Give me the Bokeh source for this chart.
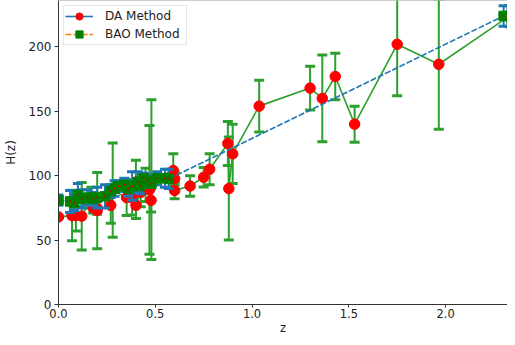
from bokeh.plotting import figure
from bokeh.models import Range1d, FixedTicker, PrintfTickFormatter, Legend, LegendItem, ColumnDataSource, Span
from bokeh.embed import file_html
from bokeh.resources import INLINE

# DA (cosmic chronometer) data
da_z = [0.0, 0.07, 0.09, 0.12, 0.17, 0.179, 0.199, 0.2, 0.27, 0.28, 0.352, 0.3802, 0.4, 0.4004,
        0.4247, 0.4497, 0.47, 0.4783, 0.48, 0.593, 0.6, 0.6, 0.68, 0.75, 0.781, 0.875, 0.88, 0.9,
        1.037, 1.3, 1.363, 1.43, 1.53, 1.75, 1.965, 2.33]
da_H = [68, 69, 69, 68.6, 83, 75, 75, 72.9, 77, 88.8, 83, 83, 95, 77,
        87.1, 92.8, 89, 80.9, 97, 104, 97.7, 88.5, 92, 98.8, 105, 125, 90, 117,
        154, 168, 160, 177, 140, 202, 186.5, 224]
da_err = [0, 19.6, 12, 26.2, 8, 4, 5, 29.6, 14, 36.6, 14, 13.5, 17, 10.2,
          11.2, 12.9, 50, 9, 62, 13, 5, 6.5, 8, 7.5, 12, 17, 40, 23,
          20, 17, 33.6, 18, 14, 40, 50.4, 8]

# BAO data
bao_z = [0.0, 0.06, 0.08, 0.1, 0.12, 0.15, 0.18, 0.2, 0.24, 0.27, 0.29, 0.31, 0.34, 0.36,
         0.38, 0.41, 0.42, 0.44, 0.46, 0.48, 0.51, 0.55, 0.57, 2.30, 2.33, 2.34, 2.36]
bao_H = [81, 80, 79, 85, 82, 83, 82, 83, 84, 88, 90, 92, 93, 90,
         92, 95, 92, 98, 96, 94, 98, 98, 97.5, 224, 224, 222, 226]
bao_err = [4, 8.5, 6, 9, 7, 6, 5, 8, 9, 5, 6, 4, 5, 6,
           11, 8, 6, 4, 5, 3, 5, 7, 7.5, 8, 8, 7, 8]

x_ticks = [0.0, 0.5, 1.0, 1.5, 2.0]
y_ticks = [0, 50, 100, 150, 200]

GREEN = "#2ca02c"
BLUE = "#1f77b4"
ORANGE = "#ff7f0e"

p = figure(width=507, height=337, x_range=Range1d(0, 2.32), y_range=Range1d(0, 236),
           output_backend="svg", toolbar_location=None,
           min_border_left=58, min_border_right=0, min_border_top=0, min_border_bottom=0)
p.background_fill_color = "white"
p.border_fill_color = "white"
p.outline_line_color = None
p.xgrid.visible = False
p.ygrid.visible = False

da_src = ColumnDataSource(dict(
    z=da_z, H=da_H,
    lo=[h - e for h, e in zip(da_H, da_err)],
    hi=[h + e for h, e in zip(da_H, da_err)]))
bao_src = ColumnDataSource(dict(
    z=bao_z, H=bao_H,
    lo=[h - e for h, e in zip(bao_H, bao_err)],
    hi=[h + e for h, e in zip(bao_H, bao_err)]))

# DA series
p.line("z", "H", source=da_src, line_color=GREEN, line_width=1.6)
p.segment(x0="z", y0="lo", x1="z", y1="hi", source=da_src, line_color=GREEN, line_width=2)
p.scatter("z", "lo", source=da_src, marker="dash", size=10, line_color=GREEN, line_width=3)
p.scatter("z", "hi", source=da_src, marker="dash", size=10, line_color=GREEN, line_width=3)
p.scatter("z", "H", source=da_src, marker="circle", size=10.5, fill_color="red", line_color="red")

# BAO series
p.line("z", "H", source=bao_src, line_color=BLUE, line_width=1.6, line_dash="6 2")
p.segment(x0="z", y0="lo", x1="z", y1="hi", source=bao_src, line_color=BLUE, line_width=2)
p.scatter("z", "lo", source=bao_src, marker="dash", size=10, line_color=BLUE, line_width=3)
p.scatter("z", "hi", source=bao_src, marker="dash", size=10, line_color=BLUE, line_width=3)
p.scatter("z", "H", source=bao_src, marker="square", size=9.5, fill_color="green", line_color="green")
p.scatter("z", "H", source=bao_src, marker="circle", size=2, fill_color="#d00000", line_color=None)

# legend proxies (placed outside the visible range)
l1 = p.line(x=[-10, -9], y=[-10, -9], line_color=BLUE, line_width=1.6)
m1 = p.scatter(x=[-10], y=[-10], marker="circle", fill_color="red", line_color="red")
l2 = p.line(x=[-10, -9], y=[-10, -9], line_color=ORANGE, line_width=1.6, line_dash="6 2")
m2 = p.scatter(x=[-10], y=[-10], marker="square", fill_color="green", line_color="green")

legend = Legend(items=[LegendItem(label="DA Method", renderers=[l1, m1]),
                       LegendItem(label="BAO Method", renderers=[l2, m2])],
                location="top_left", margin=5, padding=1, spacing=0,
                glyph_width=28, glyph_height=18, label_height=14, label_standoff=12,
                label_width=80,
                label_text_font="DejaVu Sans", label_text_font_size="12px",
                label_text_color="#222222",
                border_line_color="#cccccc", border_line_width=1,
                background_fill_color="white", background_fill_alpha=0.8)
p.add_layout(legend)

# top spine
p.add_layout(Span(location=236, dimension="width", line_color="#999999", line_width=1))

for ax in (p.xaxis[0], p.yaxis[0]):
    ax.axis_line_color = "#333333"
    ax.axis_line_width = 1
    ax.major_tick_line_color = "#333333"
    ax.major_tick_out = 4
    ax.major_tick_in = 0
    ax.minor_tick_line_color = None
    ax.major_label_text_font = "DejaVu Sans"
    ax.major_label_text_font_size = "12px"
    ax.major_label_text_color = "#222222"
    ax.major_label_standoff = 2
    ax.axis_label_text_font = "DejaVu Sans"
    ax.axis_label_text_font_size = "12px"
    ax.axis_label_text_font_style = "normal"
    ax.axis_label_text_color = "#222222"
    ax.axis_label_standoff = 0

p.xaxis.major_tick_out = 3
p.xaxis.major_label_standoff = 1
p.xaxis.major_label_text_font_size = "11.5px"
p.xaxis.axis_label_text_font_size = "11.5px"
p.yaxis.major_label_standoff = 3
p.yaxis.axis_label_standoff = 8
p.xaxis.ticker = FixedTicker(ticks=x_ticks)
p.xaxis.formatter = PrintfTickFormatter(format="%.1f")
p.yaxis.ticker = FixedTicker(ticks=y_ticks)
p.xaxis.axis_label = "z"
p.yaxis.axis_label = "H(z)"

open("out.html", "w").write(file_html(p, INLINE))
